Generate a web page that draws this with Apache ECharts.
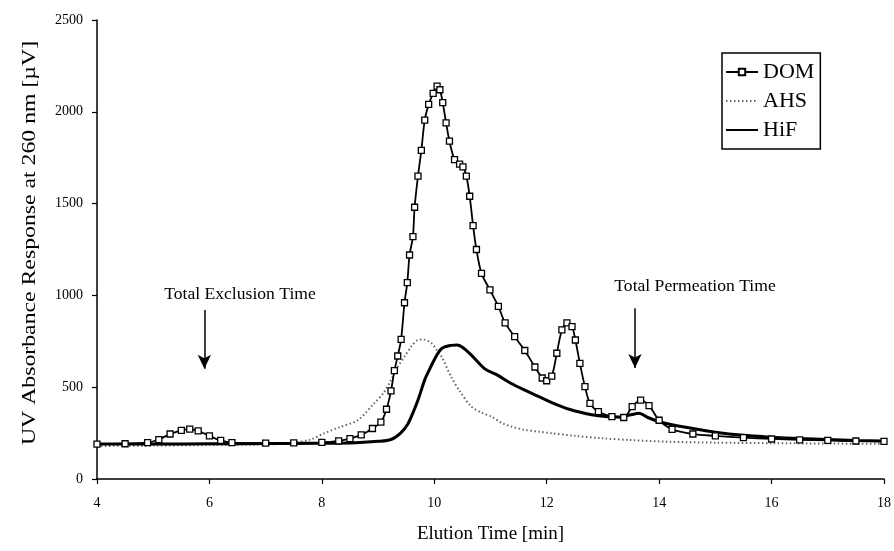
<!DOCTYPE html>
<html>
<head>
<meta charset="utf-8">
<script src="https://cdn.jsdelivr.net/npm/echarts@6/dist/echarts.min.js"></script>
<style>html,body{margin:0;padding:0;background:#fff}#c{width:894px;height:551px}</style>
</head>
<body>
<div id="c"></div>
<script>
var domTime = [4.0,4.5,4.9,5.1,5.3,5.5,5.65,5.8,6.0,6.2,6.4,7.0,7.5,8.0,8.3,8.5,8.7,8.9,9.05,9.15,9.23,9.29,9.35,9.41,9.47,9.52,9.56,9.62,9.65,9.71,9.77,9.83,9.9,9.98,10.05,10.1,10.15,10.21,10.27,10.36,10.45,10.51,10.57,10.63,10.69,10.75,10.84,10.99,11.14,11.26,11.43,11.61,11.79,11.92,12.0,12.09,12.18,12.27,12.36,12.45,12.51,12.59,12.68,12.77,12.92,13.16,13.37,13.52,13.67,13.82,14.0,14.23,14.6,15.0,15.5,16.0,16.5,17.0,17.5,18.0];
var domValue = [190,192,198,215,245,265,272,262,235,210,198,195,197,200,208,220,240,275,310,380,480,590,670,760,960,1070,1220,1320,1480,1650,1790,1955,2040,2100,2140,2120,2050,1940,1840,1740,1715,1700,1650,1540,1380,1250,1120,1030,940,850,775,700,610,550,535,560,685,812,850,830,757,630,503,412,367,340,335,394,430,400,320,270,245,235,225,218,213,210,207,205];

var ahsTime = [4.0,5.0,6.0,7.0,7.45,7.8,8.04,8.3,8.64,8.93,9.1,9.23,9.35,9.47,9.6,9.71,9.8,9.95,10.05,10.13,10.3,10.45,10.66,10.85,11.02,11.2,11.38,11.6,11.85,12.09,12.5,12.98,13.5,14.17,15.0,16.0,17.0,18.0];
var ahsValue = [180,182,185,188,196,215,249,280,321,412,470,539,610,666,725,757,760,739,700,666,557,480,394,360,339,305,285,268,258,249,235,222,212,203,198,195,193,192];

var hifTime = [4.0,5.0,6.0,7.0,8.0,8.6,9.0,9.23,9.4,9.53,9.62,9.71,9.83,9.92,10.0,10.13,10.3,10.4,10.5,10.66,10.9,11.1,11.37,11.6,11.85,12.1,12.4,12.8,13.04,13.3,13.5,13.64,13.8,14.0,14.5,15.0,15.5,16.0,16.5,17.0,17.5,18.0];
var hifValue = [190,190,192,193,195,198,205,215,250,300,360,430,540,600,650,710,728,730,718,675,600,570,520,485,450,415,380,350,340,338,350,358,335,312,280,255,238,228,220,215,210,207];

var xTicks = [4,6,8,10,12,14,16,18];
var yTicks = [0,500,1000,1500,2000,2500];

function zip(t, v){ return t.map(function(x,i){ return [x, v[i]]; }); }

var serif = '"Liberation Serif", "DejaVu Serif", serif';
var chart = echarts.init(document.getElementById('c'), null, {renderer:'canvas'});
chart.setOption({
  animation: false,
  backgroundColor: '#fff',
  textStyle: {fontFamily: serif, color: '#000'},
  grid: {left: 97, right: 10, top: 20, bottom: 72},
  xAxis: {
    type: 'value', min: xTicks[0], max: xTicks[xTicks.length-1], interval: 2,
    name: 'Elution Time [min]', nameLocation: 'middle', nameGap: 46,
    nameTextStyle: {fontFamily: serif, fontSize: 19, color: '#000'},
    axisLine: {lineStyle: {color: '#000', width: 1.5}},
    axisTick: {show: true, inside: false, length: 5, lineStyle: {color: '#000', width: 1.2}},
    axisLabel: {fontFamily: serif, fontSize: 14, color: '#000', margin: 17, formatter: function(v){ return String(v); }},
    splitLine: {show: false}
  },
  yAxis: {
    type: 'value', min: yTicks[0], max: yTicks[yTicks.length-1], interval: 500,
    axisLine: {show: true, lineStyle: {color: '#000', width: 1.5}},
    axisTick: {show: true, length: 5, lineStyle: {color: '#000', width: 1.2}},
    axisLabel: {fontFamily: serif, fontSize: 14, color: '#000', margin: 14, formatter: function(v){ return String(v); }},
    splitLine: {show: false}
  },
  legend: {
    orient: 'vertical', left: 722, top: 53,
    padding: [8, 6, 8, 3], itemGap: 7,
    itemWidth: 32, itemHeight: 8,
    borderColor: '#000', borderWidth: 1.5, backgroundColor: '#fff',
    textStyle: {fontFamily: serif, fontSize: 22, color: '#000'},
    data: [
      {name: 'DOM'},
      {name: 'AHS', itemStyle: {opacity: 0}},
      {name: 'HiF', itemStyle: {opacity: 0}}
    ]
  },
  series: [
    {
      name: 'AHS', type: 'line', data: zip(ahsTime, ahsValue), z: 2,
      symbol: 'none', smooth: 0.3,
      itemStyle: {color: '#666'},
      lineStyle: {color: '#666', width: 2, type: [1.5, 2.5]}
    },
    {
      name: 'HiF', type: 'line', data: zip(hifTime, hifValue), z: 3,
      symbol: 'none', smooth: 0.3,
      itemStyle: {color: '#000'},
      lineStyle: {color: '#000', width: 3},
      markLine: {
        silent: true, symbol: ['none', 'arrow'], symbolSize: [10, 14],
        lineStyle: {color: '#000', width: 1.5, type: 'solid'},
        label: {show: false},
        data: [
          [{coord: [5.91, 920]}, {coord: [5.91, 600]}],
          [{coord: [13.57, 930]}, {coord: [13.57, 605]}]
        ]
      }
    },
    {
      name: 'DOM', type: 'line', data: zip(domTime, domValue), z: 4,
      symbol: 'rect', symbolSize: 6, showAllSymbol: true, smooth: 0.3,
      lineStyle: {color: '#000', width: 1.8},
      itemStyle: {color: '#fff', borderColor: '#000', borderWidth: 1.3}
    }
  ],
  graphic: [
    {type: 'text', x: 30, y: 243, rotation: Math.PI / 2, scaleX: 1.25,
     style: {text: 'UV Absorbance Response at 260 nm [\u00b5V]', font: '19px ' + serif, fill: '#000', align: 'center', verticalAlign: 'middle'}},
    {type: 'text', x: 240, y: 295, scaleX: 1.1,
     style: {text: 'Total Exclusion Time', font: '16px ' + serif, fill: '#000', align: 'center', verticalAlign: 'middle'}},
    {type: 'text', x: 695, y: 287, scaleX: 1.1,
     style: {text: 'Total Permeation Time', font: '16px ' + serif, fill: '#000', align: 'center', verticalAlign: 'middle'}}
  ]
});
</script>
</body>
</html>
